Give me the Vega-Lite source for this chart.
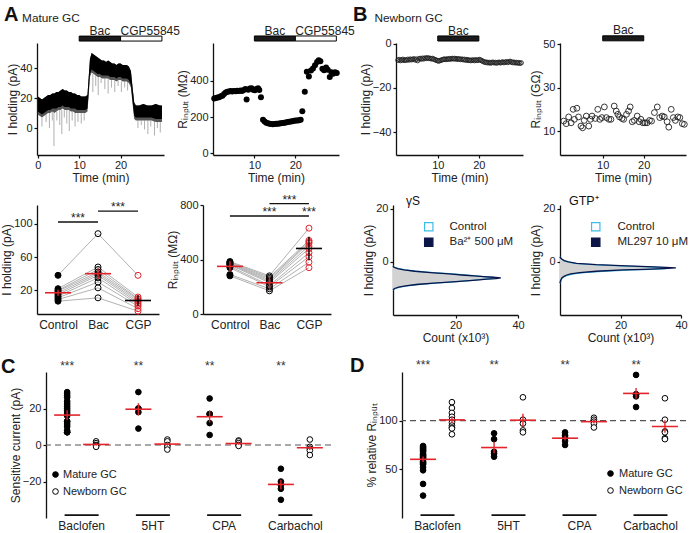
{
"$schema": "https://vega.github.io/schema/vega-lite/v6.json",
"padding": {"left": 0, "top": 4, "right": 0, "bottom": 0},
"background": "white",
"config": {
  "font": "Liberation Sans",
  "view": {"stroke": null},
  "axis": {"domainColor": "#111", "domainWidth": 1.3, "tickColor": "#111", "tickWidth": 1.2, "tickSize": 3, "labelFontSize": 11, "labelColor": "#222", "titleFontSize": 12, "titleFontWeight": "normal", "titleColor": "#222", "grid": false, "labelPadding": 2, "titlePadding": 3, "labelFlush": false, "labelOverlap": false, "labelFont": "Liberation Sans", "titleFont": "Liberation Sans"},
  "axisY": {"titlePadding": 0},
  "axisX": {"titlePadding": 2},
  "title": {"font": "Liberation Sans", "fontWeight": "bold", "fontSize": 20, "anchor": "start", "frame": "group", "color": "#111", "offset": 0},
  "legend": {"labelFont": "Liberation Sans", "labelFontSize": 12, "labelColor": "#222", "padding": 0},
  "text": {"font": "Liberation Sans", "color": "#222"}
},
"datasets": {
  "empty": [{}],
  "trace": [{"t":0,"hi":21,"lo":11,"fz":9},{"t":0.5,"hi":20,"lo":10,"fz":8},{"t":1,"hi":19,"lo":9,"fz":7},{"t":1.5,"hi":20,"lo":10,"fz":8},{"t":2,"hi":21,"lo":11,"fz":9},{"t":2.5,"hi":22,"lo":12,"fz":10},{"t":3,"hi":22,"lo":12,"fz":10},{"t":3.5,"hi":23,"lo":13,"fz":11},{"t":4,"hi":23,"lo":13,"fz":10},{"t":4.5,"hi":24,"lo":13,"fz":11},{"t":5,"hi":24,"lo":14,"fz":12},{"t":5.5,"hi":25,"lo":14,"fz":12},{"t":6,"hi":26,"lo":15,"fz":13},{"t":6.5,"hi":25,"lo":14,"fz":12},{"t":7,"hi":25,"lo":14,"fz":12},{"t":7.5,"hi":24,"lo":14,"fz":12},{"t":8,"hi":24,"lo":13,"fz":11},{"t":8.5,"hi":23,"lo":13,"fz":11},{"t":9,"hi":23,"lo":13,"fz":10},{"t":9.5,"hi":22,"lo":12,"fz":10},{"t":10,"hi":22,"lo":12,"fz":10},{"t":10.5,"hi":21,"lo":12,"fz":10},{"t":11,"hi":21,"lo":12,"fz":10},{"t":11.5,"hi":21,"lo":12,"fz":10},{"t":12,"hi":22,"lo":13,"fz":11},{"t":12.3,"hi":34,"lo":24,"fz":22},{"t":12.6,"hi":46,"lo":36,"fz":34},{"t":13,"hi":50,"lo":39,"fz":37},{"t":13.5,"hi":49,"lo":38,"fz":36},{"t":14,"hi":48,"lo":37,"fz":35},{"t":14.5,"hi":47,"lo":36,"fz":34},{"t":15,"hi":46,"lo":36,"fz":34},{"t":15.5,"hi":45,"lo":35,"fz":33},{"t":16,"hi":45,"lo":35,"fz":33},{"t":16.5,"hi":44,"lo":35,"fz":33},{"t":17,"hi":45,"lo":35,"fz":33},{"t":17.5,"hi":44,"lo":34,"fz":32},{"t":18,"hi":43,"lo":34,"fz":32},{"t":18.5,"hi":43,"lo":34,"fz":32},{"t":19,"hi":42,"lo":33,"fz":31},{"t":19.5,"hi":43,"lo":34,"fz":32},{"t":20,"hi":43,"lo":34,"fz":32},{"t":20.5,"hi":42,"lo":33,"fz":31},{"t":21,"hi":42,"lo":33,"fz":31},{"t":21.5,"hi":42,"lo":33,"fz":31},{"t":22,"hi":41,"lo":32,"fz":30},{"t":22.5,"hi":38,"lo":29,"fz":27},{"t":22.9,"hi":27,"lo":18,"fz":16},{"t":23.3,"hi":17,"lo":8,"fz":6},{"t":23.7,"hi":15,"lo":7,"fz":5},{"t":24.5,"hi":15,"lo":7,"fz":5},{"t":25.5,"hi":16,"lo":7,"fz":5},{"t":26.5,"hi":15,"lo":7,"fz":5},{"t":27.5,"hi":15,"lo":7,"fz":5},{"t":28.5,"hi":16,"lo":6,"fz":4},{"t":29.5,"hi":15,"lo":6,"fz":4},{"t":30,"hi":15,"lo":6,"fz":4}],
  "spikes": [{"t":1.0,"low":1,"base":7},{"t":2.0,"low":4,"base":9},{"t":2.8,"low":0,"base":10},{"t":3.5,"low":5,"base":11},{"t":3.9,"low":-12,"base":10},{"t":4.6,"low":5,"base":11},{"t":5.3,"low":2,"base":12},{"t":5.8,"low":-4,"base":12},{"t":6.4,"low":7,"base":12},{"t":7.0,"low":3,"base":12},{"t":7.6,"low":-2,"base":12},{"t":8.3,"low":5,"base":11},{"t":9.0,"low":1,"base":10},{"t":9.7,"low":4,"base":10},{"t":10.5,"low":3,"base":10},{"t":11.2,"low":5,"base":10},{"t":13.3,"low":24,"base":36},{"t":14.0,"low":28,"base":35},{"t":14.6,"low":22,"base":34},{"t":15.3,"low":30,"base":33},{"t":16.2,"low":26,"base":33},{"t":17.0,"low":23,"base":33},{"t":17.8,"low":27,"base":32},{"t":18.6,"low":24,"base":32},{"t":19.4,"low":28,"base":32},{"t":20.2,"low":24,"base":31},{"t":21.0,"low":27,"base":31},{"t":21.7,"low":25,"base":31},{"t":24.2,"low":0,"base":5},{"t":25.0,"low":2,"base":5},{"t":25.8,"low":-1,"base":5},{"t":26.6,"low":-4,"base":5},{"t":27.3,"low":1,"base":5},{"t":28.2,"low":-5,"base":5},{"t":28.9,"low":0,"base":4},{"t":29.6,"low":-3,"base":4}],
  "barsA": [{"drug":"Bac","start":10,"end":20,"mid":15},{"drug":"CGP55845","start":20,"end":30,"mid":25}],
  "barsB": [{"drug":"Bac","start":10,"end":20,"mid":15}],
  "rinA": [{"t":0.2,"r":303},{"t":0.6,"r":305},{"t":1.0,"r":308},{"t":1.4,"r":310},{"t":1.8,"r":315},{"t":2.2,"r":318},{"t":2.6,"r":328},{"t":3.0,"r":336},{"t":3.4,"r":340},{"t":3.8,"r":342},{"t":4.2,"r":344},{"t":4.6,"r":342},{"t":5.0,"r":345},{"t":5.4,"r":343},{"t":5.8,"r":346},{"t":6.2,"r":344},{"t":6.6,"r":347},{"t":7.0,"r":345},{"t":7.4,"r":350},{"t":7.8,"r":355},{"t":8.1,"r":297},{"t":8.5,"r":352},{"t":8.9,"r":358},{"t":9.3,"r":360},{"t":9.7,"r":352},{"t":10.1,"r":348},{"t":10.5,"r":355},{"t":10.9,"r":360},{"t":11.2,"r":350},{"t":11.6,"r":310},{"t":12.1,"r":185},{"t":12.5,"r":175},{"t":12.9,"r":168},{"t":13.3,"r":165},{"t":13.7,"r":163},{"t":14.1,"r":161},{"t":14.5,"r":160},{"t":14.9,"r":161},{"t":15.3,"r":162},{"t":15.7,"r":163},{"t":16.1,"r":164},{"t":16.5,"r":166},{"t":16.9,"r":167},{"t":17.3,"r":168},{"t":17.7,"r":170},{"t":18.1,"r":172},{"t":18.5,"r":173},{"t":18.9,"r":175},{"t":19.3,"r":177},{"t":19.7,"r":179},{"t":20.1,"r":180},{"t":20.5,"r":181},{"t":20.9,"r":182},{"t":21.3,"r":185},{"t":21.7,"r":232},{"t":22.3,"r":340},{"t":22.8,"r":452},{"t":23.3,"r":425},{"t":23.8,"r":458},{"t":24.3,"r":470},{"t":24.8,"r":488},{"t":25.3,"r":505},{"t":25.7,"r":515},{"t":26.1,"r":510},{"t":26.6,"r":468},{"t":27.0,"r":460},{"t":27.5,"r":475},{"t":27.9,"r":462},{"t":28.4,"r":422},{"t":28.8,"r":448},{"t":29.2,"r":440},{"t":29.7,"r":448},{"t":30.1,"r":445}],
  "ihB": [{"t":0.3,"i":-7.4},{"t":0.6,"i":-7.1},{"t":0.9,"i":-7.6},{"t":1.2,"i":-7.3},{"t":1.5,"i":-7.0},{"t":1.8,"i":-7.5},{"t":2.1,"i":-7.2},{"t":2.4,"i":-7.4},{"t":2.7,"i":-7.0},{"t":3.0,"i":-7.3},{"t":3.3,"i":-6.9},{"t":3.6,"i":-7.2},{"t":3.9,"i":-7.0},{"t":4.2,"i":-6.8},{"t":4.5,"i":-7.3},{"t":4.8,"i":-6.9},{"t":5.1,"i":-7.6},{"t":5.4,"i":-6.8},{"t":5.7,"i":-6.6},{"t":6.0,"i":-6.9},{"t":6.3,"i":-6.5},{"t":6.6,"i":-6.8},{"t":6.9,"i":-6.4},{"t":7.2,"i":-6.6},{"t":7.5,"i":-6.3},{"t":7.8,"i":-6.6},{"t":8.1,"i":-6.5},{"t":8.4,"i":-6.8},{"t":8.7,"i":-6.6},{"t":9.0,"i":-6.9},{"t":9.3,"i":-7.1},{"t":9.6,"i":-7.4},{"t":9.9,"i":-7.6},{"t":10.2,"i":-7.8},{"t":10.5,"i":-7.6},{"t":10.8,"i":-7.4},{"t":11.1,"i":-7.2},{"t":11.4,"i":-7.0},{"t":11.7,"i":-6.9},{"t":12.0,"i":-7.1},{"t":12.3,"i":-6.8},{"t":12.6,"i":-7.0},{"t":12.9,"i":-6.7},{"t":13.2,"i":-6.9},{"t":13.5,"i":-6.6},{"t":13.8,"i":-6.8},{"t":14.1,"i":-6.6},{"t":14.4,"i":-6.9},{"t":14.7,"i":-6.7},{"t":15.0,"i":-7.0},{"t":15.3,"i":-6.8},{"t":15.6,"i":-7.1},{"t":15.9,"i":-6.9},{"t":16.2,"i":-7.2},{"t":16.5,"i":-7.0},{"t":16.8,"i":-7.4},{"t":17.1,"i":-7.1},{"t":17.4,"i":-7.5},{"t":17.7,"i":-7.3},{"t":18.0,"i":-7.6},{"t":18.3,"i":-7.4},{"t":18.6,"i":-7.3},{"t":18.9,"i":-7.6},{"t":19.2,"i":-7.2},{"t":19.5,"i":-7.5},{"t":19.8,"i":-7.4},{"t":20.1,"i":-7.1},{"t":20.4,"i":-7.3},{"t":20.7,"i":-7.6},{"t":21.0,"i":-7.9},{"t":21.3,"i":-8.2},{"t":21.6,"i":-8.4},{"t":21.9,"i":-8.3},{"t":22.2,"i":-8.6},{"t":22.5,"i":-8.4},{"t":22.8,"i":-8.7},{"t":23.1,"i":-8.5},{"t":23.4,"i":-8.3},{"t":23.7,"i":-8.6},{"t":24.0,"i":-8.4},{"t":24.3,"i":-8.7},{"t":24.6,"i":-8.5},{"t":24.9,"i":-8.3},{"t":25.2,"i":-8.6},{"t":25.5,"i":-8.4},{"t":25.8,"i":-8.2},{"t":26.1,"i":-8.5},{"t":26.4,"i":-8.3},{"t":26.7,"i":-8.1},{"t":27.0,"i":-8.4},{"t":27.3,"i":-8.2},{"t":27.6,"i":-7.9},{"t":27.9,"i":-8.2},{"t":28.2,"i":-8.5},{"t":28.5,"i":-8.3},{"t":28.8,"i":-8.6},{"t":29.1,"i":-8.4},{"t":29.4,"i":-8.7},{"t":29.7,"i":-8.5},{"t":30.0,"i":-8.8},{"t":30.3,"i":-8.6}],
  "rinB": [{"t":0.5,"r":14.6},{"t":1.1,"r":13.4},{"t":1.7,"r":16.5},{"t":2.3,"r":13.8},{"t":2.8,"r":20},{"t":3.1,"r":15.4},{"t":3.7,"r":20.5},{"t":4.1,"r":16.5},{"t":4.7,"r":12.3},{"t":5.1,"r":11.5},{"t":5.5,"r":14.9},{"t":6.0,"r":16.9},{"t":6.6,"r":12.3},{"t":7.0,"r":15.4},{"t":7.4,"r":16.9},{"t":8.2,"r":15.8},{"t":8.8,"r":20},{"t":9.3,"r":15.4},{"t":9.8,"r":16.2},{"t":10.4,"r":21.1},{"t":10.9,"r":16.2},{"t":11.5,"r":15.4},{"t":12.0,"r":15.4},{"t":12.8,"r":21.5},{"t":13.3,"r":19.2},{"t":13.7,"r":17.7},{"t":14.1,"r":16.5},{"t":14.7,"r":15.8},{"t":15.1,"r":15.4},{"t":15.8,"r":17.7},{"t":16.3,"r":19.2},{"t":16.7,"r":21.1},{"t":17.2,"r":14.3},{"t":17.7,"r":14.9},{"t":18.4,"r":16.9},{"t":18.9,"r":14.3},{"t":19.3,"r":15.4},{"t":19.8,"r":13.8},{"t":20.3,"r":13.8},{"t":20.8,"r":13.8},{"t":21.4,"r":14.9},{"t":21.9,"r":14.6},{"t":22.6,"r":18.5},{"t":23.3,"r":21.1},{"t":23.9,"r":16.2},{"t":24.5,"r":16.9},{"t":25.0,"r":16.5},{"t":25.7,"r":14.3},{"t":26.1,"r":11.8},{"t":26.7,"r":20},{"t":27.2,"r":16.2},{"t":27.7,"r":14.9},{"t":28.3,"r":16.5},{"t":28.8,"r":16.2},{"t":29.4,"r":13.4},{"t":29.9,"r":13.1}],
  "pairsA3": [{"cell":1,"cond":"Control","v":38},{"cell":1,"cond":"Bac","v":88},{"cell":1,"cond":"CGP","v":38},{"cell":2,"cond":"Control","v":22},{"cell":2,"cond":"Bac","v":48},{"cell":2,"cond":"CGP","v":12},{"cell":3,"cond":"Control","v":20},{"cell":3,"cond":"Bac","v":45},{"cell":3,"cond":"CGP","v":10},{"cell":4,"cond":"Control","v":19},{"cell":4,"cond":"Bac","v":42},{"cell":4,"cond":"CGP","v":9},{"cell":5,"cond":"Control","v":17},{"cell":5,"cond":"Bac","v":40},{"cell":5,"cond":"CGP","v":7},{"cell":6,"cond":"Control","v":15},{"cell":6,"cond":"Bac","v":38},{"cell":6,"cond":"CGP","v":5},{"cell":7,"cond":"Control","v":13},{"cell":7,"cond":"Bac","v":35},{"cell":7,"cond":"CGP","v":3},{"cell":8,"cond":"Control","v":11},{"cell":8,"cond":"Bac","v":30},{"cell":8,"cond":"CGP","v":1},{"cell":9,"cond":"Control","v":9},{"cell":9,"cond":"Bac","v":23},{"cell":9,"cond":"CGP","v":-2},{"cell":10,"cond":"Control","v":7},{"cell":10,"cond":"Bac","v":11},{"cell":10,"cond":"CGP","v":-5}],
  "sumA3": [{"cond":"Control","mean":17.1,"lo":13.5,"hi":20.7},{"cond":"Bac","mean":40,"lo":33.6,"hi":46.4},{"cond":"CGP","mean":7.8,"lo":1.4,"hi":14.2}],
  "sigA3": [{"from":"Control","to":"Bac","y":102},{"from":"Bac","to":"CGP","y":115}],
  "pairsA4": [{"cell":1,"cond":"Control","v":385},{"cell":1,"cond":"Bac","v":280},{"cell":1,"cond":"CGP","v":630},{"cell":2,"cond":"Control","v":380},{"cell":2,"cond":"Bac","v":270},{"cell":2,"cond":"CGP","v":540},{"cell":3,"cond":"Control","v":375},{"cell":3,"cond":"Bac","v":260},{"cell":3,"cond":"CGP","v":530},{"cell":4,"cond":"Control","v":370},{"cell":4,"cond":"Bac","v":250},{"cell":4,"cond":"CGP","v":520},{"cell":5,"cond":"Control","v":365},{"cell":5,"cond":"Bac","v":240},{"cell":5,"cond":"CGP","v":500},{"cell":6,"cond":"Control","v":360},{"cell":6,"cond":"Bac","v":230},{"cell":6,"cond":"CGP","v":480},{"cell":7,"cond":"Control","v":350},{"cell":7,"cond":"Bac","v":210},{"cell":7,"cond":"CGP","v":450},{"cell":8,"cond":"Control","v":340},{"cell":8,"cond":"Bac","v":200},{"cell":8,"cond":"CGP","v":420},{"cell":9,"cond":"Control","v":290},{"cell":9,"cond":"Bac","v":185},{"cell":9,"cond":"CGP","v":380},{"cell":10,"cond":"Control","v":280},{"cell":10,"cond":"Bac","v":170},{"cell":10,"cond":"CGP","v":340}],
  "sumA4": [{"cond":"Control","mean":349.5,"lo":311,"hi":388},{"cond":"Bac","mean":229.5,"lo":187,"hi":272},{"cond":"CGP","mean":481,"lo":395,"hi":567}],
  "sigA4": [{"from":"Control","to":"CGP","y":719},{"from":"Bac","to":"CGP","y":810}],
  "starsA4": [{"at":"Bac","y":719,"pair":"long"},{"at":"CGP","y":719,"pair":"long"},{"at":"Bac","y":810,"pair":"short"}],
  "histL": [{"series":"Control","pA":-10.5,"count":0},{"series":"Control","pA":-10,"count":0.8},{"series":"Control","pA":-9.5,"count":2.2},{"series":"Control","pA":-9,"count":4.5},{"series":"Control","pA":-8.5,"count":8},{"series":"Control","pA":-8,"count":13.5},{"series":"Control","pA":-7.5,"count":19.5},{"series":"Control","pA":-7,"count":24.5},{"series":"Control","pA":-6.75,"count":27},{"series":"Control","pA":-6.5,"count":29.5},{"series":"Control","pA":-6.25,"count":31.5},{"series":"Control","pA":-6,"count":33},{"series":"Control","pA":-5.75,"count":31.5},{"series":"Control","pA":-5.5,"count":29},{"series":"Control","pA":-5.25,"count":26.5},{"series":"Control","pA":-5,"count":24},{"series":"Control","pA":-4.5,"count":19},{"series":"Control","pA":-4,"count":13},{"series":"Control","pA":-3.5,"count":7.5},{"series":"Control","pA":-3,"count":4},{"series":"Control","pA":-2.5,"count":1.8},{"series":"Control","pA":-2,"count":0.5},{"series":"Control","pA":-1.5,"count":0},
    {"series":"Ba²⁺ 500 μM","pA":-10.5,"count":0},{"series":"Ba²⁺ 500 μM","pA":-10,"count":0.5},{"series":"Ba²⁺ 500 μM","pA":-9.5,"count":1.8},{"series":"Ba²⁺ 500 μM","pA":-9,"count":4},{"series":"Ba²⁺ 500 μM","pA":-8.5,"count":7.5},{"series":"Ba²⁺ 500 μM","pA":-8,"count":13},{"series":"Ba²⁺ 500 μM","pA":-7.5,"count":19},{"series":"Ba²⁺ 500 μM","pA":-7,"count":24.5},{"series":"Ba²⁺ 500 μM","pA":-6.75,"count":27.5},{"series":"Ba²⁺ 500 μM","pA":-6.5,"count":30},{"series":"Ba²⁺ 500 μM","pA":-6.25,"count":33},{"series":"Ba²⁺ 500 μM","pA":-6,"count":34.5},{"series":"Ba²⁺ 500 μM","pA":-5.75,"count":32},{"series":"Ba²⁺ 500 μM","pA":-5.5,"count":29},{"series":"Ba²⁺ 500 μM","pA":-5.25,"count":26},{"series":"Ba²⁺ 500 μM","pA":-5,"count":23},{"series":"Ba²⁺ 500 μM","pA":-4.5,"count":18},{"series":"Ba²⁺ 500 μM","pA":-4,"count":12},{"series":"Ba²⁺ 500 μM","pA":-3.5,"count":7},{"series":"Ba²⁺ 500 μM","pA":-3,"count":3.5},{"series":"Ba²⁺ 500 μM","pA":-2.5,"count":1.5},{"series":"Ba²⁺ 500 μM","pA":-2,"count":0.3},{"series":"Ba²⁺ 500 μM","pA":-1.5,"count":0}],
  "histR": [{"series":"Control","pA":-8,"count":0},{"series":"Control","pA":-7,"count":0.3},{"series":"Control","pA":-6,"count":0.8},{"series":"Control","pA":-5.5,"count":1.5},{"series":"Control","pA":-5,"count":2.5},{"series":"Control","pA":-4.5,"count":4.5},{"series":"Control","pA":-4,"count":8},{"series":"Control","pA":-3.5,"count":14},{"series":"Control","pA":-3,"count":24},{"series":"Control","pA":-2.75,"count":30},{"series":"Control","pA":-2.5,"count":35},{"series":"Control","pA":-2.25,"count":36.5},{"series":"Control","pA":-2,"count":33},{"series":"Control","pA":-1.75,"count":27},{"series":"Control","pA":-1.5,"count":20},{"series":"Control","pA":-1,"count":11},{"series":"Control","pA":-0.5,"count":5},{"series":"Control","pA":0,"count":2.5},{"series":"Control","pA":0.5,"count":1.2},{"series":"Control","pA":1,"count":0.6},{"series":"Control","pA":1.5,"count":0.2},{"series":"Control","pA":2,"count":0},
    {"series":"ML297 10 μM","pA":-8,"count":0},{"series":"ML297 10 μM","pA":-7,"count":0.2},{"series":"ML297 10 μM","pA":-6,"count":0.6},{"series":"ML297 10 μM","pA":-5.5,"count":1.2},{"series":"ML297 10 μM","pA":-5,"count":2},{"series":"ML297 10 μM","pA":-4.5,"count":3.5},{"series":"ML297 10 μM","pA":-4,"count":6.5},{"series":"ML297 10 μM","pA":-3.5,"count":12},{"series":"ML297 10 μM","pA":-3,"count":21},{"series":"ML297 10 μM","pA":-2.75,"count":28},{"series":"ML297 10 μM","pA":-2.5,"count":34},{"series":"ML297 10 μM","pA":-2.25,"count":38.3},{"series":"ML297 10 μM","pA":-2,"count":35},{"series":"ML297 10 μM","pA":-1.75,"count":29},{"series":"ML297 10 μM","pA":-1.5,"count":22},{"series":"ML297 10 μM","pA":-1,"count":12},{"series":"ML297 10 μM","pA":-0.5,"count":5.5},{"series":"ML297 10 μM","pA":0,"count":2.8},{"series":"ML297 10 μM","pA":0.5,"count":1.4},{"series":"ML297 10 μM","pA":1,"count":0.7},{"series":"ML297 10 μM","pA":1.5,"count":0.2},{"series":"ML297 10 μM","pA":2,"count":0}],
  "drugs": [{"drug":"Baclofen","label":"***"},{"drug":"5HT","label":"**"},{"drug":"CPA","label":"**"},{"drug":"Carbachol","label":"**"}],
  "ptsC": [{"drug":"Baclofen","type":"Mature GC","v":29},{"drug":"Baclofen","type":"Mature GC","v":28},{"drug":"Baclofen","type":"Mature GC","v":27},{"drug":"Baclofen","type":"Mature GC","v":26},{"drug":"Baclofen","type":"Mature GC","v":24},{"drug":"Baclofen","type":"Mature GC","v":23},{"drug":"Baclofen","type":"Mature GC","v":22},{"drug":"Baclofen","type":"Mature GC","v":21},{"drug":"Baclofen","type":"Mature GC","v":20},{"drug":"Baclofen","type":"Mature GC","v":19},{"drug":"Baclofen","type":"Mature GC","v":18},{"drug":"Baclofen","type":"Mature GC","v":17},{"drug":"Baclofen","type":"Mature GC","v":16},{"drug":"Baclofen","type":"Mature GC","v":13},{"drug":"Baclofen","type":"Mature GC","v":13},{"drug":"Baclofen","type":"Mature GC","v":12},{"drug":"Baclofen","type":"Mature GC","v":11},{"drug":"Baclofen","type":"Mature GC","v":10},{"drug":"Baclofen","type":"Mature GC","v":8},{"drug":"Baclofen","type":"Mature GC","v":7},{"drug":"Baclofen","type":"Mature GC","v":7},{"drug":"Baclofen","type":"Mature GC","v":7},
    {"drug":"Baclofen","type":"Newborn GC","v":2},{"drug":"Baclofen","type":"Newborn GC","v":1},{"drug":"Baclofen","type":"Newborn GC","v":0},{"drug":"Baclofen","type":"Newborn GC","v":-0.5},{"drug":"Baclofen","type":"Newborn GC","v":-1},
    {"drug":"5HT","type":"Mature GC","v":29},{"drug":"5HT","type":"Mature GC","v":20},{"drug":"5HT","type":"Mature GC","v":20},{"drug":"5HT","type":"Mature GC","v":18},{"drug":"5HT","type":"Mature GC","v":9},
    {"drug":"5HT","type":"Newborn GC","v":3},{"drug":"5HT","type":"Newborn GC","v":2},{"drug":"5HT","type":"Newborn GC","v":0},{"drug":"5HT","type":"Newborn GC","v":-1},{"drug":"5HT","type":"Newborn GC","v":-2.5},
    {"drug":"CPA","type":"Mature GC","v":25.5},{"drug":"CPA","type":"Mature GC","v":17},{"drug":"CPA","type":"Mature GC","v":17},{"drug":"CPA","type":"Mature GC","v":12},{"drug":"CPA","type":"Mature GC","v":5.5},
    {"drug":"CPA","type":"Newborn GC","v":2.5},{"drug":"CPA","type":"Newborn GC","v":2},{"drug":"CPA","type":"Newborn GC","v":1},{"drug":"CPA","type":"Newborn GC","v":0},{"drug":"CPA","type":"Newborn GC","v":-0.5},
    {"drug":"Carbachol","type":"Mature GC","v":-13},{"drug":"Carbachol","type":"Mature GC","v":-20},{"drug":"Carbachol","type":"Mature GC","v":-22},{"drug":"Carbachol","type":"Mature GC","v":-24},{"drug":"Carbachol","type":"Mature GC","v":-30},
    {"drug":"Carbachol","type":"Newborn GC","v":3},{"drug":"Carbachol","type":"Newborn GC","v":-1},{"drug":"Carbachol","type":"Newborn GC","v":-2},{"drug":"Carbachol","type":"Newborn GC","v":-3},{"drug":"Carbachol","type":"Newborn GC","v":-5.5}],
  "sumC": [{"drug":"Baclofen","type":"Mature GC","mean":16.4,"lo":13.7,"hi":19.1},{"drug":"Baclofen","type":"Newborn GC","mean":0.3,"lo":-0.3,"hi":0.9},{"drug":"5HT","type":"Mature GC","mean":19.6,"lo":16.3,"hi":22.9},{"drug":"5HT","type":"Newborn GC","mean":0.5,"lo":-0.4,"hi":1.4},{"drug":"CPA","type":"Mature GC","mean":15.5,"lo":12.3,"hi":18.7},{"drug":"CPA","type":"Newborn GC","mean":0.8,"lo":0.2,"hi":1.4},{"drug":"Carbachol","type":"Mature GC","mean":-21.6,"lo":-24.2,"hi":-19},{"drug":"Carbachol","type":"Newborn GC","mean":-1.5,"lo":-2.8,"hi":-0.2}],
  "ptsD": [{"drug":"Baclofen","type":"Mature GC","v":74},{"drug":"Baclofen","type":"Mature GC","v":73},{"drug":"Baclofen","type":"Mature GC","v":72},{"drug":"Baclofen","type":"Mature GC","v":71},{"drug":"Baclofen","type":"Mature GC","v":70},{"drug":"Baclofen","type":"Mature GC","v":69},{"drug":"Baclofen","type":"Mature GC","v":68},{"drug":"Baclofen","type":"Mature GC","v":66},{"drug":"Baclofen","type":"Mature GC","v":65},{"drug":"Baclofen","type":"Mature GC","v":64},{"drug":"Baclofen","type":"Mature GC","v":63},{"drug":"Baclofen","type":"Mature GC","v":62},{"drug":"Baclofen","type":"Mature GC","v":61},{"drug":"Baclofen","type":"Mature GC","v":60},{"drug":"Baclofen","type":"Mature GC","v":58},{"drug":"Baclofen","type":"Mature GC","v":57},{"drug":"Baclofen","type":"Mature GC","v":56},{"drug":"Baclofen","type":"Mature GC","v":55},{"drug":"Baclofen","type":"Mature GC","v":52},{"drug":"Baclofen","type":"Mature GC","v":49},{"drug":"Baclofen","type":"Mature GC","v":35},{"drug":"Baclofen","type":"Mature GC","v":23},
    {"drug":"Baclofen","type":"Newborn GC","v":119},{"drug":"Baclofen","type":"Newborn GC","v":113},{"drug":"Baclofen","type":"Newborn GC","v":108},{"drug":"Baclofen","type":"Newborn GC","v":104},{"drug":"Baclofen","type":"Newborn GC","v":101},{"drug":"Baclofen","type":"Newborn GC","v":98},{"drug":"Baclofen","type":"Newborn GC","v":95},{"drug":"Baclofen","type":"Newborn GC","v":93},{"drug":"Baclofen","type":"Newborn GC","v":92},{"drug":"Baclofen","type":"Newborn GC","v":86},
    {"drug":"5HT","type":"Mature GC","v":87},{"drug":"5HT","type":"Mature GC","v":81},{"drug":"5HT","type":"Mature GC","v":68},{"drug":"5HT","type":"Mature GC","v":66},{"drug":"5HT","type":"Mature GC","v":63},
    {"drug":"5HT","type":"Newborn GC","v":124},{"drug":"5HT","type":"Newborn GC","v":101},{"drug":"5HT","type":"Newborn GC","v":97},{"drug":"5HT","type":"Newborn GC","v":90},{"drug":"5HT","type":"Newborn GC","v":88},
    {"drug":"CPA","type":"Mature GC","v":88},{"drug":"CPA","type":"Mature GC","v":85},{"drug":"CPA","type":"Mature GC","v":83},{"drug":"CPA","type":"Mature GC","v":79},{"drug":"CPA","type":"Mature GC","v":75},
    {"drug":"CPA","type":"Newborn GC","v":103},{"drug":"CPA","type":"Newborn GC","v":101},{"drug":"CPA","type":"Newborn GC","v":99},{"drug":"CPA","type":"Newborn GC","v":97},{"drug":"CPA","type":"Newborn GC","v":93},
    {"drug":"Carbachol","type":"Mature GC","v":147},{"drug":"Carbachol","type":"Mature GC","v":127},{"drug":"Carbachol","type":"Mature GC","v":127},{"drug":"Carbachol","type":"Mature GC","v":125},{"drug":"Carbachol","type":"Mature GC","v":114},
    {"drug":"Carbachol","type":"Newborn GC","v":123},{"drug":"Carbachol","type":"Newborn GC","v":101},{"drug":"Carbachol","type":"Newborn GC","v":89},{"drug":"Carbachol","type":"Newborn GC","v":88},{"drug":"Carbachol","type":"Newborn GC","v":82},{"drug":"Carbachol","type":"Newborn GC","v":81}],
  "sumD": [{"drug":"Baclofen","type":"Mature GC","mean":60.3,"lo":57.5,"hi":63.1},{"drug":"Baclofen","type":"Newborn GC","mean":100.8,"lo":97.5,"hi":104.1},{"drug":"5HT","type":"Mature GC","mean":72.4,"lo":66.4,"hi":78.4},{"drug":"5HT","type":"Newborn GC","mean":100.5,"lo":94,"hi":107},{"drug":"CPA","type":"Mature GC","mean":82,"lo":79.5,"hi":84.5},{"drug":"CPA","type":"Newborn GC","mean":99,"lo":97,"hi":101},{"drug":"Carbachol","type":"Mature GC","mean":128,"lo":122.5,"hi":133.5},{"drug":"Carbachol","type":"Newborn GC","mean":94,"lo":87.5,"hi":100.5}]
},
"spacing": 0,
"bounds": "full",
"resolve": {"scale": {"fill": "independent", "stroke": "independent", "xOffset": "independent"}, "legend": {"fill": "independent", "stroke": "independent"}},
"vconcat": [
 {
  "spacing": 0,
  "bounds": "flush",
  "hconcat": [
  {
    "width": 127, "height": 112,
    "title": {"text": "A", "dx": -33, "dy": 16},
    "layer": [
      {"data": {"name": "spikes"}, "mark": {"type": "rule", "color": "#9a9a9a", "strokeWidth": 0.8},
       "encoding": {
         "x": {"field": "t", "type": "quantitative", "scale": {"domain": [-0.2, 30.5], "nice": false, "zero": false}, "axis": {"values": [0, 10, 20], "title": "Time (min)", "labelPadding": 1}},
         "y": {"field": "low", "type": "quantitative", "scale": {"domain": [-18, 56.7], "nice": false, "zero": false}, "axis": {"values": [0, 20, 40], "title": "I holding (pA)"}},
         "y2": {"field": "base"}}},
      {"data": {"name": "trace"}, "mark": {"type": "area", "color": "#555"},
       "encoding": {"x": {"field": "t", "type": "quantitative"}, "y": {"field": "hi", "type": "quantitative"}, "y2": {"field": "fz"}}},
      {"data": {"name": "trace"}, "mark": {"type": "area", "color": "#000"},
       "encoding": {"x": {"field": "t", "type": "quantitative"}, "y": {"field": "hi", "type": "quantitative"}, "y2": {"field": "lo"}}},
      {"data": {"name": "barsA"}, "mark": {"type": "rect", "stroke": "#000", "strokeWidth": 1},
       "encoding": {"x": {"field": "start", "type": "quantitative"}, "x2": {"field": "end"}, "y": {"datum": 58}, "y2": {"datum": 61.3},
         "fill": {"condition": {"test": "datum.drug === 'Bac'", "value": "#1a1a1a"}, "value": "#ffffff"}}},
      {"data": {"name": "barsA"}, "transform": [{"filter": "datum.drug === 'Bac'"}], "mark": {"type": "text", "fontSize": 12, "align": "center", "baseline": "middle"},
       "encoding": {"x": {"field": "mid", "type": "quantitative"}, "y": {"datum": 65}, "text": {"field": "drug"}}},
      {"data": {"name": "barsA"}, "transform": [{"filter": "datum.drug !== 'Bac'"}], "mark": {"type": "text", "fontSize": 12, "align": "left", "baseline": "middle"},
       "encoding": {"x": {"field": "start", "type": "quantitative"}, "y": {"datum": 65}, "text": {"field": "drug"}}},
      {"data": {"values": [{"label": "Mature GC"}]}, "mark": {"type": "text", "fontSize": 11.8, "align": "left", "baseline": "alphabetic"},
       "encoding": {"x": {"datum": -3.8}, "y": {"datum": 70.9}, "text": {"field": "label"}}}
    ]
  },
  {"width": 49, "height": 1, "data": {"name": "empty"}, "mark": {"type": "point", "opacity": 0}},
  {
    "width": 126, "height": 112,
    "layer": [
      {"data": {"name": "rinA"}, "mark": {"type": "point", "filled": true, "color": "#000", "size": 36, "opacity": 1},
       "encoding": {
         "x": {"field": "t", "type": "quantitative", "scale": {"domain": [-0.1, 30.65], "nice": false, "zero": false}, "axis": {"values": [10, 20], "title": "Time (min)", "labelPadding": 1}},
         "y": {"field": "r", "type": "quantitative", "scale": {"domain": [-11, 611], "nice": false, "zero": false}, "axis": {"values": [0, 200, 400], "title": "Rᵢₙₚᵤₜ (MΩ)"}}}},
      {"data": {"name": "barsA"}, "mark": {"type": "rect", "stroke": "#000", "strokeWidth": 1},
       "encoding": {"x": {"field": "start", "type": "quantitative"}, "x2": {"field": "end"}, "y": {"datum": 622}, "y2": {"datum": 650},
         "fill": {"condition": {"test": "datum.drug === 'Bac'", "value": "#1a1a1a"}, "value": "#ffffff"}}},
      {"data": {"name": "barsA"}, "transform": [{"filter": "datum.drug === 'Bac'"}], "mark": {"type": "text", "fontSize": 12, "align": "center", "baseline": "middle"},
       "encoding": {"x": {"field": "mid", "type": "quantitative"}, "y": {"datum": 680}, "text": {"field": "drug"}}},
      {"data": {"name": "barsA"}, "transform": [{"filter": "datum.drug !== 'Bac'"}], "mark": {"type": "text", "fontSize": 12, "align": "left", "baseline": "middle"},
       "encoding": {"x": {"field": "start", "type": "quantitative"}, "y": {"datum": 680}, "text": {"field": "drug"}}}
    ]
  },
  {"width": 57, "height": 1, "data": {"name": "empty"}, "mark": {"type": "point", "opacity": 0}},
  {
    "width": 127, "height": 112,
    "title": {"text": "B", "dx": -43, "dy": 16},
    "layer": [
      {"data": {"name": "ihB"}, "mark": {"type": "point", "filled": false, "color": "#222", "size": 20, "strokeWidth": 0.9, "opacity": 1},
       "encoding": {
         "x": {"field": "t", "type": "quantitative", "scale": {"domain": [-0.17, 30.75], "nice": false, "zero": false}, "axis": {"values": [10, 20], "title": "Time (min)", "labelPadding": 1}},
         "y": {"field": "i", "type": "quantitative", "scale": {"domain": [-50.4, 0.4], "nice": false, "zero": false}, "axis": {"values": [0, -20, -40], "title": "I holding (pA)"}}}},
      {"data": {"name": "barsB"}, "mark": {"type": "rect", "fill": "#1a1a1a", "stroke": "#000", "strokeWidth": 1},
       "encoding": {"x": {"field": "start", "type": "quantitative"}, "x2": {"field": "end"}, "y": {"datum": 1.3}, "y2": {"datum": 3.6}}},
      {"data": {"name": "barsB"}, "mark": {"type": "text", "fontSize": 12, "align": "center", "baseline": "middle"},
       "encoding": {"x": {"field": "mid", "type": "quantitative"}, "y": {"datum": 6.0}, "text": {"field": "drug"}}},
      {"data": {"values": [{"label": "Newborn GC"}]}, "mark": {"type": "text", "fontSize": 11.8, "align": "left", "baseline": "alphabetic"},
       "encoding": {"x": {"datum": -5.4}, "y": {"datum": 10.1}, "text": {"field": "label"}}}
    ]
  },
  {"width": 37, "height": 1, "data": {"name": "empty"}, "mark": {"type": "point", "opacity": 0}},
  {
    "width": 126, "height": 112,
    "layer": [
      {"data": {"name": "rinB"}, "mark": {"type": "point", "filled": false, "color": "#222", "size": 34, "strokeWidth": 0.9, "opacity": 1},
       "encoding": {
         "x": {"field": "t", "type": "quantitative", "scale": {"domain": [-0.41, 30.3], "nice": false, "zero": false}, "axis": {"values": [10, 20], "title": "Time (min)", "labelPadding": 1}},
         "y": {"field": "r", "type": "quantitative", "scale": {"domain": [-1, 50.5], "nice": false, "zero": false}, "axis": {"values": [10, 30, 50], "title": "Rᵢₙₚᵤₜ (GΩ)"}}}},
      {"data": {"name": "barsB"}, "mark": {"type": "rect", "fill": "#1a1a1a", "stroke": "#000", "strokeWidth": 1},
       "encoding": {"x": {"field": "start", "type": "quantitative"}, "x2": {"field": "end"}, "y": {"datum": 51.5}, "y2": {"datum": 53.8}}},
      {"data": {"name": "barsB"}, "mark": {"type": "text", "fontSize": 12, "align": "center", "baseline": "middle"},
       "encoding": {"x": {"field": "mid", "type": "quantitative"}, "y": {"datum": 56.3}, "text": {"field": "drug"}}}
    ]
  }
  ]
 },
 {"width": 1, "height": 10, "data": {"name": "empty"}, "mark": {"type": "point", "opacity": 0}},
 {
  "spacing": 0,
  "bounds": "flush",
  "resolve": {"scale": {"stroke": "independent"}, "legend": {"stroke": "independent"}},
  "hconcat": [
  {
    "width": 122, "height": 109,
    "layer": [
      {"data": {"name": "pairsA3"}, "mark": {"type": "line", "color": "#a8a8a8", "strokeWidth": 0.9},
       "encoding": {
         "x": {"field": "cond", "type": "nominal", "scale": {"type": "point", "domain": ["Control", "Bac", "CGP"], "padding": 0.525, "align": 0.5}, "axis": {"title": null, "ticks": false, "tickSize": 0, "labelPadding": 5, "labelAngle": 0, "labelFontSize": 12}},
         "y": {"field": "v", "type": "quantitative", "scale": {"domain": [-8.4, 122.4], "nice": false, "zero": false}, "axis": {"values": [20, 60, 100], "title": "I holding (pA)"}},
         "detail": {"field": "cell", "type": "nominal"}}},
      {"data": {"name": "pairsA3"}, "mark": {"type": "point", "filled": true, "size": 36, "strokeWidth": 1, "opacity": 1},
       "encoding": {"x": {"field": "cond", "type": "nominal"}, "y": {"field": "v", "type": "quantitative"},
         "fill": {"condition": {"test": "datum.cond === 'Control'", "value": "#000"}, "value": "transparent"},
         "stroke": {"condition": {"test": "datum.cond === 'CGP'", "value": "#e3242b"}, "value": "#000"}}},
      {"data": {"name": "sumA3"}, "mark": {"type": "tick", "orient": "horizontal", "size": 26, "thickness": 1.6, "opacity": 1},
       "encoding": {"x": {"field": "cond", "type": "nominal"}, "y": {"field": "mean", "type": "quantitative"},
         "color": {"condition": {"test": "datum.cond === 'CGP'", "value": "#000"}, "value": "#e3242b"}}},
      {"data": {"name": "sumA3"}, "mark": {"type": "rule", "strokeWidth": 1.4},
       "encoding": {"x": {"field": "cond", "type": "nominal"}, "y": {"field": "lo", "type": "quantitative"}, "y2": {"field": "hi"},
         "color": {"condition": {"test": "datum.cond === 'CGP'", "value": "#000"}, "value": "#e3242b"}}},
      {"data": {"name": "sigA3"}, "mark": {"type": "rule", "color": "#111", "strokeWidth": 1.4},
       "encoding": {"x": {"field": "from", "type": "nominal"}, "x2": {"field": "to"}, "y": {"field": "y", "type": "quantitative"}}},
      {"data": {"name": "sigA3"}, "mark": {"type": "text", "fontSize": 12, "baseline": "alphabetic", "dx": 20},
       "encoding": {"x": {"field": "from", "type": "nominal"}, "y": {"field": "y", "type": "quantitative"}, "text": {"value": "***"}}}
    ]
  },
  {"width": 44, "height": 1, "data": {"name": "empty"}, "mark": {"type": "point", "opacity": 0}},
  {
    "width": 128, "height": 109,
    "layer": [
      {"data": {"name": "pairsA4"}, "mark": {"type": "line", "color": "#a8a8a8", "strokeWidth": 0.9},
       "encoding": {
         "x": {"field": "cond", "type": "nominal", "scale": {"type": "point", "domain": ["Control", "Bac", "CGP"], "padding": 0.62, "align": 0.55}, "axis": {"title": null, "ticks": false, "tickSize": 0, "labelPadding": 5, "labelAngle": 0, "labelFontSize": 12}},
         "y": {"field": "v", "type": "quantitative", "scale": {"domain": [0, 800], "nice": false}, "axis": {"values": [0, 400, 800], "title": "Rᵢₙₚᵤₜ (MΩ)"}},
         "detail": {"field": "cell", "type": "nominal"}}},
      {"data": {"name": "pairsA4"}, "mark": {"type": "point", "filled": true, "size": 36, "strokeWidth": 1, "opacity": 1},
       "encoding": {"x": {"field": "cond", "type": "nominal"}, "y": {"field": "v", "type": "quantitative"},
         "fill": {"condition": {"test": "datum.cond === 'Control'", "value": "#000"}, "value": "transparent"},
         "stroke": {"condition": {"test": "datum.cond === 'CGP'", "value": "#e3242b"}, "value": "#000"}}},
      {"data": {"name": "sumA4"}, "mark": {"type": "tick", "orient": "horizontal", "size": 26, "thickness": 1.6, "opacity": 1},
       "encoding": {"x": {"field": "cond", "type": "nominal"}, "y": {"field": "mean", "type": "quantitative"},
         "color": {"condition": {"test": "datum.cond === 'CGP'", "value": "#000"}, "value": "#e3242b"}}},
      {"data": {"name": "sumA4"}, "mark": {"type": "rule", "strokeWidth": 1.4},
       "encoding": {"x": {"field": "cond", "type": "nominal"}, "y": {"field": "lo", "type": "quantitative"}, "y2": {"field": "hi"},
         "color": {"condition": {"test": "datum.cond === 'CGP'", "value": "#000"}, "value": "#e3242b"}}},
      {"data": {"name": "sigA4"}, "mark": {"type": "rule", "color": "#111", "strokeWidth": 1.4},
       "encoding": {"x": {"field": "from", "type": "nominal"}, "x2": {"field": "to"}, "y": {"field": "y", "type": "quantitative"}}},
      {"data": {"name": "starsA4"}, "transform": [{"filter": "datum.pair === 'long'"}], "mark": {"type": "text", "fontSize": 12, "baseline": "alphabetic"},
       "encoding": {"x": {"field": "at", "type": "nominal"}, "y": {"field": "y", "type": "quantitative"}, "text": {"value": "***"}}},
      {"data": {"name": "starsA4"}, "transform": [{"filter": "datum.pair === 'short'"}], "mark": {"type": "text", "fontSize": 12, "baseline": "alphabetic", "dx": 20},
       "encoding": {"x": {"field": "at", "type": "nominal"}, "y": {"field": "y", "type": "quantitative"}, "text": {"value": "***"}}}
    ]
  },
  {"width": 62, "height": 1, "data": {"name": "empty"}, "mark": {"type": "point", "opacity": 0}},
  {
    "width": 125, "height": 110,
    "title": {"text": "γS", "fontSize": 12, "fontWeight": "normal", "dx": 13, "dy": 9},
    "layer": [
      {"data": {"name": "histL"}, "transform": [{"filter": "datum.series === 'Control'"}], "mark": {"type": "area", "orient": "horizontal", "color": "#d2d2d2"},
       "encoding": {
         "x": {"field": "count", "type": "quantitative", "stack": null, "scale": {"domain": [0, 40], "nice": false}, "axis": {"values": [20, 40], "title": "Count (x10³)", "labelPadding": 1}},
         "y": {"field": "pA", "type": "quantitative", "scale": {"domain": [-20, 21.5], "nice": false, "zero": false}, "axis": {"values": [0, 20], "title": "I holding (pA)"}}}},
      {"data": {"name": "histL"}, "mark": {"type": "line", "strokeWidth": 1.3},
       "encoding": {"x": {"field": "count", "type": "quantitative"}, "y": {"field": "pA", "type": "quantitative"}, "order": {"field": "pA", "type": "quantitative"},
         "stroke": {"field": "series", "type": "nominal", "scale": {"domain": ["Control", "Ba²⁺ 500 μM"], "range": ["#3cbde9", "#0c1547"]},
           "legend": {"orient": "none", "legendX": 30, "legendY": 16, "title": null, "symbolType": "square", "symbolSize": 70, "symbolStrokeWidth": 1.2, "labelOffset": 15, "rowPadding": 1.5, "labelFontSize": 11.5,
             "encode": {"symbols": {"update": {"fill": {"signal": "datum.value === 'Control' ? '#ffffff' : '#0c1547'"}, "opacity": {"value": 1}}}}}}}}
    ]
  },
  {"width": 42, "height": 1, "data": {"name": "empty"}, "mark": {"type": "point", "opacity": 0}},
  {
    "width": 121, "height": 110,
    "title": {"text": "GTP⁺", "fontSize": 12.5, "fontWeight": "normal", "dx": 9, "dy": 9},
    "layer": [
      {"data": {"name": "histR"}, "transform": [{"filter": "datum.series === 'Control'"}], "mark": {"type": "area", "orient": "horizontal", "color": "#d2d2d2"},
       "encoding": {
         "x": {"field": "count", "type": "quantitative", "stack": null, "scale": {"domain": [0, 40], "nice": false}, "axis": {"values": [20, 40], "title": "Count (x10³)", "labelPadding": 1}},
         "y": {"field": "pA", "type": "quantitative", "scale": {"domain": [-20, 21.5], "nice": false, "zero": false}, "axis": {"values": [0, 20], "title": "I holding (pA)"}}}},
      {"data": {"name": "histR"}, "mark": {"type": "line", "strokeWidth": 1.3},
       "encoding": {"x": {"field": "count", "type": "quantitative"}, "y": {"field": "pA", "type": "quantitative"}, "order": {"field": "pA", "type": "quantitative"},
         "stroke": {"field": "series", "type": "nominal", "scale": {"domain": ["Control", "ML297 10 μM"], "range": ["#3cbde9", "#0c1547"]},
           "legend": {"orient": "none", "legendX": 30, "legendY": 16, "title": null, "symbolType": "square", "symbolSize": 70, "symbolStrokeWidth": 1.2, "labelOffset": 16, "rowPadding": 1.5, "labelFontSize": 11.5,
             "encode": {"symbols": {"update": {"fill": {"signal": "datum.value === 'Control' ? '#ffffff' : '#0c1547'"}, "opacity": {"value": 1}}}}}}}}
    ]
  }
  ]
 },
 {"width": 1, "height": 12.5, "data": {"name": "empty"}, "mark": {"type": "point", "opacity": 0}},
 {
  "spacing": 0,
  "bounds": "flush",
  "resolve": {"scale": {"fill": "independent", "xOffset": "independent"}, "legend": {"fill": "independent"}},
  "hconcat": [
  {"width": 9, "height": 1, "data": {"name": "empty"}, "mark": {"type": "point", "opacity": 0}},
  {
    "width": 285, "height": 146,
    "title": {"text": "C", "dx": -45, "dy": 21},
    "layer": [
      {"data": {"values": [{"ref": 0}]}, "mark": {"type": "rule", "strokeDash": [6, 4], "color": "#555", "strokeWidth": 1.1},
       "encoding": {"y": {"field": "ref", "type": "quantitative", "scale": {"domain": [-40, 40], "nice": false, "zero": false}, "axis": {"values": [-20, 0, 20], "title": "Sensitive current (pA)"}}}},
      {"data": {"name": "drugs"}, "mark": {"type": "tick", "orient": "horizontal", "size": 34, "thickness": 1.6, "color": "#111", "opacity": 1},
       "encoding": {"x": {"field": "drug", "type": "nominal", "scale": {"type": "band", "domain": ["Baclofen", "5HT", "CPA", "Carbachol"], "paddingInner": 0, "paddingOuter": 0}, "axis": {"title": null, "domain": false, "ticks": false, "tickSize": 0, "labelPadding": 2, "labelAngle": 0, "labelFontSize": 12}}, "y": {"datum": -38.4}}},
      {"data": {"name": "ptsC"}, "mark": {"type": "point", "filled": true, "stroke": "#000", "strokeWidth": 1, "size": 32, "opacity": 1},
       "encoding": {"x": {"field": "drug", "type": "nominal"}, "xOffset": {"field": "type", "type": "nominal", "scale": {"type": "band", "domain": ["Mature GC", "Newborn GC"], "paddingInner": 0, "paddingOuter": 0.23}}, "y": {"field": "v", "type": "quantitative"},
         "fill": {"field": "type", "type": "nominal", "scale": {"domain": ["Mature GC", "Newborn GC"], "range": ["#000000", "#ffffff"]},
           "legend": {"orient": "none", "legendX": 4, "legendY": 97, "title": null, "symbolType": "circle", "symbolSize": 32, "symbolStrokeColor": "#000", "symbolStrokeWidth": 1, "labelOffset": 2, "rowPadding": 5, "labelFontSize": 11}}}},
      {"data": {"name": "sumC"}, "mark": {"type": "tick", "orient": "horizontal", "size": 26, "thickness": 1.6, "color": "#e3242b", "opacity": 1},
       "encoding": {"x": {"field": "drug", "type": "nominal"}, "xOffset": {"field": "type", "type": "nominal"}, "y": {"field": "mean", "type": "quantitative"}}},
      {"data": {"name": "sumC"}, "mark": {"type": "rule", "color": "#e3242b", "strokeWidth": 1.4},
       "encoding": {"x": {"field": "drug", "type": "nominal"}, "xOffset": {"field": "type", "type": "nominal"}, "y": {"field": "lo", "type": "quantitative"}, "y2": {"field": "hi"}}},
      {"data": {"name": "drugs"}, "mark": {"type": "text", "fontSize": 12, "baseline": "alphabetic", "color": "#333"},
       "encoding": {"x": {"field": "drug", "type": "nominal"}, "xOffset": {"datum": "Mature GC"}, "y": {"datum": 41}, "text": {"field": "label"}}}
    ]
  },
  {"width": 71, "height": 1, "data": {"name": "empty"}, "mark": {"type": "point", "opacity": 0}},
  {
    "width": 284, "height": 146,
    "title": {"text": "D", "dx": -52, "dy": 21},
    "layer": [
      {"data": {"values": [{"ref": 100}]}, "mark": {"type": "rule", "strokeDash": [6, 4], "color": "#555", "strokeWidth": 1.1},
       "encoding": {"y": {"field": "ref", "type": "quantitative", "scale": {"domain": [0, 150], "nice": false}, "axis": {"values": [50, 100], "title": "% relative Rᵢₙₚᵤₜ"}}}},
      {"data": {"name": "drugs"}, "mark": {"type": "tick", "orient": "horizontal", "size": 34, "thickness": 1.6, "color": "#111", "opacity": 1},
       "encoding": {"x": {"field": "drug", "type": "nominal", "scale": {"type": "band", "domain": ["Baclofen", "5HT", "CPA", "Carbachol"], "paddingInner": 0, "paddingOuter": 0}, "axis": {"title": null, "domain": false, "ticks": false, "tickSize": 0, "labelPadding": 2, "labelAngle": 0, "labelFontSize": 12}}, "y": {"datum": 3}}},
      {"data": {"name": "ptsD"}, "mark": {"type": "point", "filled": true, "stroke": "#000", "strokeWidth": 1, "size": 32, "opacity": 1},
       "encoding": {"x": {"field": "drug", "type": "nominal"}, "xOffset": {"field": "type", "type": "nominal", "scale": {"type": "band", "domain": ["Mature GC", "Newborn GC"], "paddingInner": 0, "paddingOuter": 0.23}}, "y": {"field": "v", "type": "quantitative"},
         "fill": {"field": "type", "type": "nominal", "scale": {"domain": ["Mature GC", "Newborn GC"], "range": ["#000000", "#ffffff"]},
           "legend": {"orient": "none", "legendX": 203, "legendY": 96, "title": null, "symbolType": "circle", "symbolSize": 32, "symbolStrokeColor": "#000", "symbolStrokeWidth": 1, "labelOffset": 3, "rowPadding": 5, "labelFontSize": 11}}}},
      {"data": {"name": "sumD"}, "mark": {"type": "tick", "orient": "horizontal", "size": 26, "thickness": 1.6, "color": "#e3242b", "opacity": 1},
       "encoding": {"x": {"field": "drug", "type": "nominal"}, "xOffset": {"field": "type", "type": "nominal"}, "y": {"field": "mean", "type": "quantitative"}}},
      {"data": {"name": "sumD"}, "mark": {"type": "rule", "color": "#e3242b", "strokeWidth": 1.4},
       "encoding": {"x": {"field": "drug", "type": "nominal"}, "xOffset": {"field": "type", "type": "nominal"}, "y": {"field": "lo", "type": "quantitative"}, "y2": {"field": "hi"}}},
      {"data": {"name": "drugs"}, "mark": {"type": "text", "fontSize": 12, "baseline": "alphabetic", "color": "#333"},
       "encoding": {"x": {"field": "drug", "type": "nominal"}, "xOffset": {"datum": "Mature GC"}, "y": {"datum": 153}, "text": {"field": "label"}}}
    ]
  }
  ]
 }
]
}
